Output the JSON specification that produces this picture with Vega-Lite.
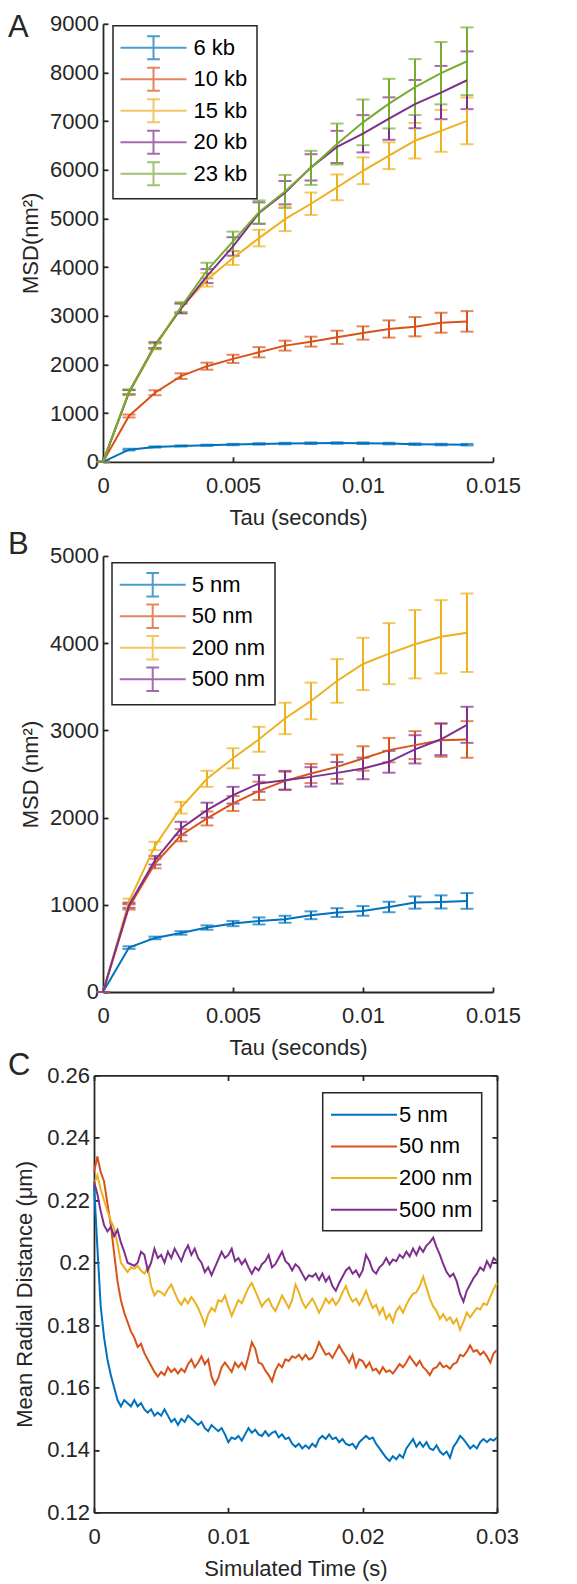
{
"$schema": "https://vega.github.io/schema/vega-lite/v6.json",
"background": "white",
"padding": {"left": 8, "top": 11.8, "right": 4, "bottom": 4},
"columns": 1, "align": "none", "spacing": -0.8,
"resolve": {"scale": {"color": "independent"}, "legend": {"color": "independent"}},
"concat": [
{
 "width": 390, "height": 438,
 "title": {"text": "A", "anchor": "start", "frame": "group", "fontSize": 31, "fontWeight": "normal", "color": "#262626", "dx": -95, "dy": 31, "offset": 0},
 "data": {"values": [
{"kb":"6 kb","tau":0,"msd":0,"err":0},{"kb":"6 kb","tau":0.001,"msd":250,"err":18},{"kb":"6 kb","tau":0.002,"msd":305,"err":12},{"kb":"6 kb","tau":0.003,"msd":325,"err":12},{"kb":"6 kb","tau":0.004,"msd":340,"err":12},{"kb":"6 kb","tau":0.005,"msd":355,"err":14},{"kb":"6 kb","tau":0.006,"msd":368,"err":15},{"kb":"6 kb","tau":0.007,"msd":375,"err":15},{"kb":"6 kb","tau":0.008,"msd":382,"err":16},{"kb":"6 kb","tau":0.009,"msd":385,"err":16},{"kb":"6 kb","tau":0.01,"msd":382,"err":16},{"kb":"6 kb","tau":0.011,"msd":375,"err":16},{"kb":"6 kb","tau":0.012,"msd":362,"err":16},{"kb":"6 kb","tau":0.013,"msd":355,"err":16},{"kb":"6 kb","tau":0.014,"msd":352,"err":16},
{"kb":"10 kb","tau":0,"msd":0,"err":0},{"kb":"10 kb","tau":0.001,"msd":941,"err":30},{"kb":"10 kb","tau":0.002,"msd":1419,"err":51},{"kb":"10 kb","tau":0.003,"msd":1760,"err":58},{"kb":"10 kb","tau":0.004,"msd":1965,"err":72},{"kb":"10 kb","tau":0.005,"msd":2115,"err":85},{"kb":"10 kb","tau":0.006,"msd":2251,"err":105},{"kb":"10 kb","tau":0.007,"msd":2387,"err":102},{"kb":"10 kb","tau":0.008,"msd":2469,"err":102},{"kb":"10 kb","tau":0.009,"msd":2558,"err":136},{"kb":"10 kb","tau":0.01,"msd":2647,"err":136},{"kb":"10 kb","tau":0.011,"msd":2729,"err":177},{"kb":"10 kb","tau":0.012,"msd":2776,"err":198},{"kb":"10 kb","tau":0.013,"msd":2858,"err":205},{"kb":"10 kb","tau":0.014,"msd":2885,"err":211},
{"kb":"15 kb","tau":0,"msd":0,"err":0},{"kb":"15 kb","tau":0.001,"msd":1420,"err":50},{"kb":"15 kb","tau":0.002,"msd":2370,"err":60},{"kb":"15 kb","tau":0.003,"msd":3160,"err":100},{"kb":"15 kb","tau":0.004,"msd":3740,"err":140},{"kb":"15 kb","tau":0.005,"msd":4186,"err":140},{"kb":"15 kb","tau":0.006,"msd":4597,"err":170},{"kb":"15 kb","tau":0.007,"msd":4987,"err":246},{"kb":"15 kb","tau":0.008,"msd":5302,"err":230},{"kb":"15 kb","tau":0.009,"msd":5639,"err":265},{"kb":"15 kb","tau":0.01,"msd":5980,"err":275},{"kb":"15 kb","tau":0.011,"msd":6289,"err":275},{"kb":"15 kb","tau":0.012,"msd":6597,"err":365},{"kb":"15 kb","tau":0.013,"msd":6800,"err":430},{"kb":"15 kb","tau":0.014,"msd":7005,"err":480},
{"kb":"20 kb","tau":0,"msd":0,"err":0},{"kb":"20 kb","tau":0.001,"msd":1430,"err":45},{"kb":"20 kb","tau":0.002,"msd":2400,"err":60},{"kb":"20 kb","tau":0.003,"msd":3150,"err":100},{"kb":"20 kb","tau":0.004,"msd":3816,"err":144},{"kb":"20 kb","tau":0.005,"msd":4425,"err":190},{"kb":"20 kb","tau":0.006,"msd":5111,"err":220},{"kb":"20 kb","tau":0.007,"msd":5530,"err":240},{"kb":"20 kb","tau":0.008,"msd":6050,"err":270},{"kb":"20 kb","tau":0.009,"msd":6470,"err":330},{"kb":"20 kb","tau":0.01,"msd":6741,"err":383},{"kb":"20 kb","tau":0.011,"msd":7053,"err":436},{"kb":"20 kb","tau":0.012,"msd":7350,"err":496},{"kb":"20 kb","tau":0.013,"msd":7587,"err":547},{"kb":"20 kb","tau":0.014,"msd":7840,"err":593},
{"kb":"23 kb","tau":0,"msd":0,"err":0},{"kb":"23 kb","tau":0.001,"msd":1440,"err":50},{"kb":"23 kb","tau":0.002,"msd":2380,"err":60},{"kb":"23 kb","tau":0.003,"msd":3180,"err":100},{"kb":"23 kb","tau":0.004,"msd":3930,"err":160},{"kb":"23 kb","tau":0.005,"msd":4530,"err":200},{"kb":"23 kb","tau":0.006,"msd":5130,"err":240},{"kb":"23 kb","tau":0.007,"msd":5555,"err":340},{"kb":"23 kb","tau":0.008,"msd":6040,"err":350},{"kb":"23 kb","tau":0.009,"msd":6530,"err":420},{"kb":"23 kb","tau":0.01,"msd":6975,"err":470},{"kb":"23 kb","tau":0.011,"msd":7360,"err":510},{"kb":"23 kb","tau":0.012,"msd":7700,"err":575},{"kb":"23 kb","tau":0.013,"msd":7985,"err":640},{"kb":"23 kb","tau":0.014,"msd":8230,"err":696}
 ]},
 "layer": [
  {"mark": {"type": "errorbar", "ticks": true, "thickness": 2, "size": 13},
   "encoding": {
    "x": {"field": "tau", "type": "quantitative", "scale": {"domain": [0, 0.015]}, "axis": {"values": [0, 0.005, 0.01, 0.015], "labelExpr": "toString(datum.value)", "title": "Tau (seconds)"}},
    "y": {"field": "msd", "type": "quantitative", "scale": {"domain": [0, 9000]}, "axis": {"values": [0,1000,2000,3000,4000,5000,6000,7000,8000,9000], "format": "d", "title": "MSD(nm²)"}},
    "yError": {"field": "err"},
    "color": {"field": "kb", "type": "nominal", "scale": {"domain": ["6 kb","10 kb","15 kb","20 kb","23 kb"], "range": ["#0072BD","#D95319","#EDB120","#7E2F8E","#77AC30"]}}
   }},
  {"mark": {"type": "line", "strokeWidth": 2},
   "encoding": {
    "x": {"field": "tau", "type": "quantitative", "scale": {"domain": [0, 0.015]}, "axis": {"values": [0, 0.005, 0.01, 0.015], "labelExpr": "toString(datum.value)", "title": "Tau (seconds)"}},
    "y": {"field": "msd", "type": "quantitative", "scale": {"domain": [0, 9000]}, "axis": {"values": [0,1000,2000,3000,4000,5000,6000,7000,8000,9000], "format": "d", "title": "MSD(nm²)"}},
    "color": {"field": "kb", "type": "nominal", "scale": {"domain": ["6 kb","10 kb","15 kb","20 kb","23 kb"], "range": ["#0072BD","#D95319","#EDB120","#7E2F8E","#77AC30"]},
      "legend": {"orient": "none", "legendX": 10, "legendY": 2, "title": null, "symbolType": "M-2.75,0H2.75M0,-0.96V0.96M-0.53,-0.96H0.53M-0.53,0.96H0.53", "symbolSize": 576, "symbolOffset": 18.5, "labelOffset": 27, "rowPadding": -0.5}}
   }}
 ]
},
{
 "columns": 1, "align": "none", "spacing": -9.6,
 "resolve": {"scale": {"color": "independent"}, "legend": {"color": "independent"}},
 "concat": [
 {
  "width": 390, "height": 436,
  "title": {"text": "B", "anchor": "start", "frame": "group", "fontSize": 31, "fontWeight": "normal", "color": "#262626", "dx": -95, "dy": 15.7, "offset": 0},
  "data": {"values": [
{"size":"5 nm","tau":0,"msd":0,"err":0},{"size":"5 nm","tau":0.001,"msd":509,"err":15},{"size":"5 nm","tau":0.002,"msd":620,"err":15},{"size":"5 nm","tau":0.003,"msd":677,"err":20},{"size":"5 nm","tau":0.004,"msd":739,"err":25},{"size":"5 nm","tau":0.005,"msd":785,"err":30},{"size":"5 nm","tau":0.006,"msd":815,"err":40},{"size":"5 nm","tau":0.007,"msd":834,"err":40},{"size":"5 nm","tau":0.008,"msd":880,"err":45},{"size":"5 nm","tau":0.009,"msd":911,"err":50},{"size":"5 nm","tau":0.01,"msd":930,"err":55},{"size":"5 nm","tau":0.011,"msd":975,"err":60},{"size":"5 nm","tau":0.012,"msd":1026,"err":70},{"size":"5 nm","tau":0.013,"msd":1033,"err":75},{"size":"5 nm","tau":0.014,"msd":1044,"err":90},
{"size":"50 nm","tau":0,"msd":0,"err":0},{"size":"50 nm","tau":0.001,"msd":975,"err":30},{"size":"50 nm","tau":0.002,"msd":1473,"err":55},{"size":"50 nm","tau":0.003,"msd":1798,"err":70},{"size":"50 nm","tau":0.004,"msd":1990,"err":80},{"size":"50 nm","tau":0.005,"msd":2162,"err":86},{"size":"50 nm","tau":0.006,"msd":2307,"err":105},{"size":"50 nm","tau":0.007,"msd":2421,"err":105},{"size":"50 nm","tau":0.008,"msd":2506,"err":110},{"size":"50 nm","tau":0.009,"msd":2582,"err":140},{"size":"50 nm","tau":0.01,"msd":2678,"err":140},{"size":"50 nm","tau":0.011,"msd":2774,"err":140},{"size":"50 nm","tau":0.012,"msd":2831,"err":160},{"size":"50 nm","tau":0.013,"msd":2888,"err":190},{"size":"50 nm","tau":0.014,"msd":2896,"err":210},
{"size":"200 nm","tau":0,"msd":0,"err":0},{"size":"200 nm","tau":0.001,"msd":1040,"err":30},{"size":"200 nm","tau":0.002,"msd":1675,"err":48},{"size":"200 nm","tau":0.003,"msd":2114,"err":67},{"size":"200 nm","tau":0.004,"msd":2445,"err":92},{"size":"200 nm","tau":0.005,"msd":2680,"err":115},{"size":"200 nm","tau":0.006,"msd":2898,"err":143},{"size":"200 nm","tau":0.007,"msd":3137,"err":180},{"size":"200 nm","tau":0.008,"msd":3338,"err":210},{"size":"200 nm","tau":0.009,"msd":3567,"err":250},{"size":"200 nm","tau":0.01,"msd":3762,"err":300},{"size":"200 nm","tau":0.011,"msd":3880,"err":350},{"size":"200 nm","tau":0.012,"msd":3988,"err":392},{"size":"200 nm","tau":0.013,"msd":4074,"err":420},{"size":"200 nm","tau":0.014,"msd":4120,"err":450},
{"size":"500 nm","tau":0,"msd":0,"err":0},{"size":"500 nm","tau":0.001,"msd":995,"err":30},{"size":"500 nm","tau":0.002,"msd":1511,"err":50},{"size":"500 nm","tau":0.003,"msd":1875,"err":77},{"size":"500 nm","tau":0.004,"msd":2085,"err":86},{"size":"500 nm","tau":0.005,"msd":2257,"err":96},{"size":"500 nm","tau":0.006,"msd":2392,"err":96},{"size":"500 nm","tau":0.007,"msd":2429,"err":107},{"size":"500 nm","tau":0.008,"msd":2467,"err":111},{"size":"500 nm","tau":0.009,"msd":2513,"err":124},{"size":"500 nm","tau":0.01,"msd":2564,"err":124},{"size":"500 nm","tau":0.011,"msd":2640,"err":125},{"size":"500 nm","tau":0.012,"msd":2783,"err":162},{"size":"500 nm","tau":0.013,"msd":2898,"err":182},{"size":"500 nm","tau":0.014,"msd":3064,"err":207}
  ]},
  "layer": [
   {"mark": {"type": "errorbar", "ticks": true, "thickness": 2, "size": 13},
    "encoding": {
     "x": {"field": "tau", "type": "quantitative", "scale": {"domain": [0, 0.015]}, "axis": {"values": [0, 0.005, 0.01, 0.015], "labelExpr": "toString(datum.value)", "title": "Tau (seconds)"}},
     "y": {"field": "msd", "type": "quantitative", "scale": {"domain": [0, 5000]}, "axis": {"values": [0,1000,2000,3000,4000,5000], "format": "d", "title": "MSD (nm²)"}},
     "yError": {"field": "err"},
     "color": {"field": "size", "type": "nominal", "scale": {"domain": ["5 nm","50 nm","200 nm","500 nm"], "range": ["#0072BD","#D95319","#EDB120","#7E2F8E"]}}
    }},
   {"mark": {"type": "line", "strokeWidth": 2},
    "encoding": {
     "x": {"field": "tau", "type": "quantitative", "scale": {"domain": [0, 0.015]}, "axis": {"values": [0, 0.005, 0.01, 0.015], "labelExpr": "toString(datum.value)", "title": "Tau (seconds)"}},
     "y": {"field": "msd", "type": "quantitative", "scale": {"domain": [0, 5000]}, "axis": {"values": [0,1000,2000,3000,4000,5000], "format": "d", "title": "MSD (nm²)"}},
     "color": {"field": "size", "type": "nominal", "scale": {"domain": ["5 nm","50 nm","200 nm","500 nm"], "range": ["#0072BD","#D95319","#EDB120","#7E2F8E"]},
       "legend": {"orient": "none", "legendX": 9, "legendY": 6.7, "title": null, "symbolType": "M-2.75,0H2.75M0,-0.98V0.98M-0.53,-0.98H0.53M-0.53,0.98H0.53", "symbolSize": 576, "symbolOffset": 18.7, "labelOffset": 26, "rowPadding": -0.5}}
    }}
  ]
 },
 {
  "width": 394, "height": 437,
  "title": {"text": "C", "anchor": "start", "frame": "group", "fontSize": 31, "fontWeight": "normal", "color": "#262626", "dx": -95, "dy": 17.7, "offset": 0},
  "data": {"values": [
{"t":0,"5 nm":0.225,"50 nm":0.229,"200 nm":0.225,"500 nm":0.226},
{"t":0.00025,"5 nm":0.205,"50 nm":0.234,"200 nm":0.228,"500 nm":0.222},
{"t":0.0005,"5 nm":0.186,"50 nm":0.229,"200 nm":0.2235,"500 nm":0.2165},
{"t":0.00075,"5 nm":0.176,"50 nm":0.226,"200 nm":0.22,"500 nm":0.212},
{"t":0.001,"5 nm":0.169,"50 nm":0.219,"200 nm":0.2165,"500 nm":0.21},
{"t":0.00125,"5 nm":0.164,"50 nm":0.212,"200 nm":0.2135,"500 nm":0.2115},
{"t":0.0015,"5 nm":0.16,"50 nm":0.203,"200 nm":0.211,"500 nm":0.2085},
{"t":0.00175,"5 nm":0.156,"50 nm":0.194,"200 nm":0.206,"500 nm":0.2105},
{"t":0.002,"5 nm":0.154,"50 nm":0.188,"200 nm":0.2,"500 nm":0.2065},
{"t":0.00225,"5 nm":0.156,"50 nm":0.184,"200 nm":0.1985,"500 nm":0.2035},
{"t":0.0025,"5 nm":0.155,"50 nm":0.181,"200 nm":0.197,"500 nm":0.2},
{"t":0.00275,"5 nm":0.154,"50 nm":0.178,"200 nm":0.1985,"500 nm":0.1995},
{"t":0.003,"5 nm":0.156,"50 nm":0.176,"200 nm":0.198,"500 nm":0.199},
{"t":0.00325,"5 nm":0.154,"50 nm":0.173,"200 nm":0.199,"500 nm":0.2},
{"t":0.0035,"5 nm":0.155,"50 nm":0.174,"200 nm":0.1975,"500 nm":0.2035},
{"t":0.00375,"5 nm":0.153,"50 nm":0.171,"200 nm":0.1965,"500 nm":0.2025},
{"t":0.004,"5 nm":0.152,"50 nm":0.169,"200 nm":0.1985,"500 nm":0.1975},
{"t":0.00425,"5 nm":0.153,"50 nm":0.167,"200 nm":0.1925,"500 nm":0.2},
{"t":0.0045,"5 nm":0.151,"50 nm":0.165,"200 nm":0.1895,"500 nm":0.2045},
{"t":0.00475,"5 nm":0.152,"50 nm":0.1635,"200 nm":0.191,"500 nm":0.2015},
{"t":0.005,"5 nm":0.151,"50 nm":0.165,"200 nm":0.1905,"500 nm":0.2025},
{"t":0.00525,"5 nm":0.153,"50 nm":0.164,"200 nm":0.1895,"500 nm":0.2},
{"t":0.0055,"5 nm":0.151,"50 nm":0.1665,"200 nm":0.1915,"500 nm":0.2035},
{"t":0.00575,"5 nm":0.149,"50 nm":0.165,"200 nm":0.193,"500 nm":0.2015},
{"t":0.006,"5 nm":0.15,"50 nm":0.166,"200 nm":0.1905,"500 nm":0.2045},
{"t":0.00625,"5 nm":0.148,"50 nm":0.1645,"200 nm":0.188,"500 nm":0.2025},
{"t":0.0065,"5 nm":0.15,"50 nm":0.166,"200 nm":0.1865,"500 nm":0.2005},
{"t":0.00675,"5 nm":0.149,"50 nm":0.165,"200 nm":0.1885,"500 nm":0.2035},
{"t":0.007,"5 nm":0.151,"50 nm":0.1675,"200 nm":0.187,"500 nm":0.2055},
{"t":0.00725,"5 nm":0.15,"50 nm":0.169,"200 nm":0.189,"500 nm":0.2025},
{"t":0.0075,"5 nm":0.149,"50 nm":0.1665,"200 nm":0.1875,"500 nm":0.2045},
{"t":0.00775,"5 nm":0.148,"50 nm":0.168,"200 nm":0.1855,"500 nm":0.2015},
{"t":0.008,"5 nm":0.149,"50 nm":0.17,"200 nm":0.183,"500 nm":0.2},
{"t":0.00825,"5 nm":0.147,"50 nm":0.1675,"200 nm":0.18,"500 nm":0.197},
{"t":0.0085,"5 nm":0.146,"50 nm":0.169,"200 nm":0.1835,"500 nm":0.1985},
{"t":0.00875,"5 nm":0.148,"50 nm":0.1635,"200 nm":0.1855,"500 nm":0.196},
{"t":0.009,"5 nm":0.147,"50 nm":0.161,"200 nm":0.1845,"500 nm":0.1985},
{"t":0.00925,"5 nm":0.146,"50 nm":0.163,"200 nm":0.188,"500 nm":0.201},
{"t":0.0095,"5 nm":0.147,"50 nm":0.1665,"200 nm":0.1875,"500 nm":0.2035},
{"t":0.00975,"5 nm":0.145,"50 nm":0.168,"200 nm":0.1895,"500 nm":0.2015},
{"t":0.01,"5 nm":0.1425,"50 nm":0.1665,"200 nm":0.186,"500 nm":0.2025},
{"t":0.01025,"5 nm":0.144,"50 nm":0.165,"200 nm":0.183,"500 nm":0.2045},
{"t":0.0105,"5 nm":0.1435,"50 nm":0.168,"200 nm":0.1855,"500 nm":0.2005},
{"t":0.01075,"5 nm":0.1445,"50 nm":0.1665,"200 nm":0.188,"500 nm":0.2015},
{"t":0.011,"5 nm":0.143,"50 nm":0.168,"200 nm":0.187,"500 nm":0.1995},
{"t":0.01125,"5 nm":0.145,"50 nm":0.166,"200 nm":0.1895,"500 nm":0.201},
{"t":0.0115,"5 nm":0.147,"50 nm":0.17,"200 nm":0.192,"500 nm":0.1985},
{"t":0.01175,"5 nm":0.1455,"50 nm":0.1745,"200 nm":0.1935,"500 nm":0.1965},
{"t":0.012,"5 nm":0.1465,"50 nm":0.1725,"200 nm":0.191,"500 nm":0.1985},
{"t":0.01225,"5 nm":0.145,"50 nm":0.168,"200 nm":0.1885,"500 nm":0.1975},
{"t":0.0125,"5 nm":0.1445,"50 nm":0.1675,"200 nm":0.186,"500 nm":0.1995},
{"t":0.01275,"5 nm":0.146,"50 nm":0.1655,"200 nm":0.1875,"500 nm":0.2005},
{"t":0.013,"5 nm":0.1445,"50 nm":0.164,"200 nm":0.1885,"500 nm":0.2025},
{"t":0.01325,"5 nm":0.1455,"50 nm":0.162,"200 nm":0.186,"500 nm":0.1985},
{"t":0.0135,"5 nm":0.146,"50 nm":0.1655,"200 nm":0.1845,"500 nm":0.1995},
{"t":0.01375,"5 nm":0.144,"50 nm":0.1675,"200 nm":0.187,"500 nm":0.2015},
{"t":0.014,"5 nm":0.145,"50 nm":0.1665,"200 nm":0.1895,"500 nm":0.2035},
{"t":0.01425,"5 nm":0.1435,"50 nm":0.169,"200 nm":0.1875,"500 nm":0.2005},
{"t":0.0145,"5 nm":0.144,"50 nm":0.1685,"200 nm":0.1855,"500 nm":0.1995},
{"t":0.01475,"5 nm":0.142,"50 nm":0.17,"200 nm":0.188,"500 nm":0.1975},
{"t":0.015,"5 nm":0.141,"50 nm":0.1695,"200 nm":0.193,"500 nm":0.1995},
{"t":0.01525,"5 nm":0.142,"50 nm":0.1705,"200 nm":0.1905,"500 nm":0.1985},
{"t":0.0155,"5 nm":0.1405,"50 nm":0.169,"200 nm":0.1875,"500 nm":0.1965},
{"t":0.01575,"5 nm":0.1415,"50 nm":0.1705,"200 nm":0.1855,"500 nm":0.1945},
{"t":0.016,"5 nm":0.1405,"50 nm":0.169,"200 nm":0.187,"500 nm":0.196},
{"t":0.01625,"5 nm":0.142,"50 nm":0.1695,"200 nm":0.1885,"500 nm":0.1955},
{"t":0.0165,"5 nm":0.141,"50 nm":0.1715,"200 nm":0.1865,"500 nm":0.1965},
{"t":0.01675,"5 nm":0.1435,"50 nm":0.1745,"200 nm":0.184,"500 nm":0.1945},
{"t":0.017,"5 nm":0.1445,"50 nm":0.1725,"200 nm":0.186,"500 nm":0.1965},
{"t":0.01725,"5 nm":0.1435,"50 nm":0.1705,"200 nm":0.1885,"500 nm":0.194},
{"t":0.0175,"5 nm":0.145,"50 nm":0.171,"200 nm":0.187,"500 nm":0.1955},
{"t":0.01775,"5 nm":0.1435,"50 nm":0.1695,"200 nm":0.1885,"500 nm":0.1925},
{"t":0.018,"5 nm":0.144,"50 nm":0.1715,"200 nm":0.1865,"500 nm":0.191},
{"t":0.01825,"5 nm":0.1425,"50 nm":0.1735,"200 nm":0.188,"500 nm":0.1935},
{"t":0.0185,"5 nm":0.1435,"50 nm":0.1715,"200 nm":0.1905,"500 nm":0.1955},
{"t":0.01875,"5 nm":0.142,"50 nm":0.17,"200 nm":0.1925,"500 nm":0.1975},
{"t":0.019,"5 nm":0.1415,"50 nm":0.168,"200 nm":0.1895,"500 nm":0.1985},
{"t":0.01925,"5 nm":0.142,"50 nm":0.1705,"200 nm":0.1875,"500 nm":0.1965},
{"t":0.0195,"5 nm":0.1405,"50 nm":0.1665,"200 nm":0.1885,"500 nm":0.1975},
{"t":0.01975,"5 nm":0.1425,"50 nm":0.169,"200 nm":0.1865,"500 nm":0.1955},
{"t":0.02,"5 nm":0.1435,"50 nm":0.1685,"200 nm":0.1885,"500 nm":0.1975},
{"t":0.02025,"5 nm":0.1445,"50 nm":0.1665,"200 nm":0.191,"500 nm":0.2025},
{"t":0.0205,"5 nm":0.1435,"50 nm":0.168,"200 nm":0.188,"500 nm":0.2005},
{"t":0.02075,"5 nm":0.144,"50 nm":0.1655,"200 nm":0.1855,"500 nm":0.1975},
{"t":0.021,"5 nm":0.142,"50 nm":0.166,"200 nm":0.1865,"500 nm":0.1965},
{"t":0.02125,"5 nm":0.1405,"50 nm":0.1645,"200 nm":0.1835,"500 nm":0.1985},
{"t":0.0215,"5 nm":0.139,"50 nm":0.1665,"200 nm":0.1855,"500 nm":0.1995},
{"t":0.02175,"5 nm":0.1375,"50 nm":0.165,"200 nm":0.182,"500 nm":0.2015},
{"t":0.022,"5 nm":0.1365,"50 nm":0.1655,"200 nm":0.1835,"500 nm":0.1995},
{"t":0.02225,"5 nm":0.138,"50 nm":0.1645,"200 nm":0.181,"500 nm":0.201},
{"t":0.0225,"5 nm":0.137,"50 nm":0.166,"200 nm":0.1845,"500 nm":0.2005},
{"t":0.02275,"5 nm":0.1385,"50 nm":0.1675,"200 nm":0.186,"500 nm":0.2025},
{"t":0.023,"5 nm":0.1375,"50 nm":0.1665,"200 nm":0.184,"500 nm":0.2015},
{"t":0.02325,"5 nm":0.1405,"50 nm":0.168,"200 nm":0.1865,"500 nm":0.2035},
{"t":0.0235,"5 nm":0.142,"50 nm":0.17,"200 nm":0.1885,"500 nm":0.202},
{"t":0.02375,"5 nm":0.1435,"50 nm":0.1685,"200 nm":0.19,"500 nm":0.2045},
{"t":0.024,"5 nm":0.141,"50 nm":0.167,"200 nm":0.1905,"500 nm":0.2025},
{"t":0.02425,"5 nm":0.1425,"50 nm":0.1685,"200 nm":0.1925,"500 nm":0.205},
{"t":0.0245,"5 nm":0.141,"50 nm":0.1665,"200 nm":0.1955,"500 nm":0.2035},
{"t":0.02475,"5 nm":0.1425,"50 nm":0.1655,"200 nm":0.192,"500 nm":0.2055},
{"t":0.025,"5 nm":0.1405,"50 nm":0.164,"200 nm":0.1885,"500 nm":0.2065},
{"t":0.02525,"5 nm":0.14,"50 nm":0.166,"200 nm":0.186,"500 nm":0.208},
{"t":0.0255,"5 nm":0.1415,"50 nm":0.1665,"200 nm":0.1845,"500 nm":0.205},
{"t":0.02575,"5 nm":0.1395,"50 nm":0.168,"200 nm":0.182,"500 nm":0.2025},
{"t":0.026,"5 nm":0.1385,"50 nm":0.1665,"200 nm":0.1835,"500 nm":0.1995},
{"t":0.02625,"5 nm":0.1395,"50 nm":0.167,"200 nm":0.1815,"500 nm":0.197},
{"t":0.0265,"5 nm":0.1375,"50 nm":0.166,"200 nm":0.1825,"500 nm":0.1955},
{"t":0.02675,"5 nm":0.141,"50 nm":0.1675,"200 nm":0.1805,"500 nm":0.1965},
{"t":0.027,"5 nm":0.1425,"50 nm":0.168,"200 nm":0.182,"500 nm":0.194},
{"t":0.02725,"5 nm":0.1445,"50 nm":0.1705,"200 nm":0.1785,"500 nm":0.19},
{"t":0.0275,"5 nm":0.1435,"50 nm":0.17,"200 nm":0.181,"500 nm":0.1875},
{"t":0.02775,"5 nm":0.142,"50 nm":0.1715,"200 nm":0.184,"500 nm":0.191},
{"t":0.028,"5 nm":0.1405,"50 nm":0.1735,"200 nm":0.1825,"500 nm":0.193},
{"t":0.02825,"5 nm":0.1415,"50 nm":0.1715,"200 nm":0.184,"500 nm":0.195},
{"t":0.0285,"5 nm":0.1405,"50 nm":0.172,"200 nm":0.1855,"500 nm":0.1965},
{"t":0.02875,"5 nm":0.1425,"50 nm":0.1705,"200 nm":0.185,"500 nm":0.1985},
{"t":0.029,"5 nm":0.1435,"50 nm":0.1715,"200 nm":0.187,"500 nm":0.1975},
{"t":0.02925,"5 nm":0.1425,"50 nm":0.17,"200 nm":0.1865,"500 nm":0.2005},
{"t":0.0295,"5 nm":0.1435,"50 nm":0.168,"200 nm":0.189,"500 nm":0.1985},
{"t":0.02975,"5 nm":0.143,"50 nm":0.171,"200 nm":0.1915,"500 nm":0.2015},
{"t":0.03,"5 nm":0.144,"50 nm":0.172,"200 nm":0.1935,"500 nm":0.2005}
  ]},
  "transform": [{"fold": ["5 nm", "50 nm", "200 nm", "500 nm"], "as": ["key", "v"]}],
  "resolve": {"axis": {"x": "independent", "y": "independent"}},
  "layer": [
   {"mark": {"type": "line", "strokeWidth": 2},
    "encoding": {
     "x": {"field": "t", "type": "quantitative", "scale": {"domain": [0, 0.03], "range": [-9, 394]}, "axis": {"values": [0, 0.01, 0.02, 0.03], "labelExpr": "toString(datum.value)", "title": "Simulated Time (s)"}},
     "y": {"field": "v", "type": "quantitative", "scale": {"domain": [0.12, 0.26]}, "axis": {"offset": 9, "values": [0.12, 0.14, 0.16, 0.18, 0.2, 0.22, 0.24, 0.26], "labelExpr": "toString(datum.value)", "title": "Mean Radial Distance (μm)", "titlePadding": 10}},
     "color": {"field": "key", "type": "nominal", "scale": {"domain": ["5 nm","50 nm","200 nm","500 nm"], "range": ["#0072BD","#D95319","#EDB120","#7E2F8E"]},
       "legend": {"orient": "none", "legendX": 219.7, "legendY": 17.3, "title": null, "symbolType": "M-2.75,0H2.75", "symbolSize": 576, "symbolOffset": 19.3, "labelOffset": 22, "rowPadding": 7.7}}
    }},
   {"mark": {"type": "point", "opacity": 0},
    "encoding": {
     "x": {"field": "t", "type": "quantitative", "scale": {"domain": [0, 0.03], "range": [-9, 394]}, "axis": {"orient": "top", "values": [0, 0.01, 0.02, 0.03], "labels": false, "title": null}},
     "y": {"field": "v", "type": "quantitative", "scale": {"domain": [0.12, 0.26]}, "axis": {"orient": "right", "values": [0.12, 0.14, 0.16, 0.18, 0.2, 0.22, 0.24, 0.26], "labels": false, "title": null}}
    }}
  ]
 }
 ]
}
],
"config": {
 "font": "Liberation Sans",
 "view": {"stroke": null},
 "axis": {"grid": false, "domainColor": "#262626", "domainWidth": 1.8, "tickColor": "#262626", "tickWidth": 1.8, "tickSize": -5, "labelColor": "#262626", "labelFontSize": 22, "titleFontSize": 22, "titleFontWeight": "normal", "titleColor": "#262626", "labelFlush": false, "labelOverlap": false, "labelBound": false},
 "axisX": {"labelPadding": 19, "titlePadding": 11},
 "axisY": {"labelPadding": 9.5, "titlePadding": 7},
 "legend": {"padding": 9, "strokeColor": "#262626", "strokeWidth": 1.5, "fillColor": "white", "labelFontSize": 22, "labelColor": "black", "symbolStrokeWidth": 2, "symbolFillColor": "transparent"},
 "title": {"font": "Liberation Sans"}
}
}
